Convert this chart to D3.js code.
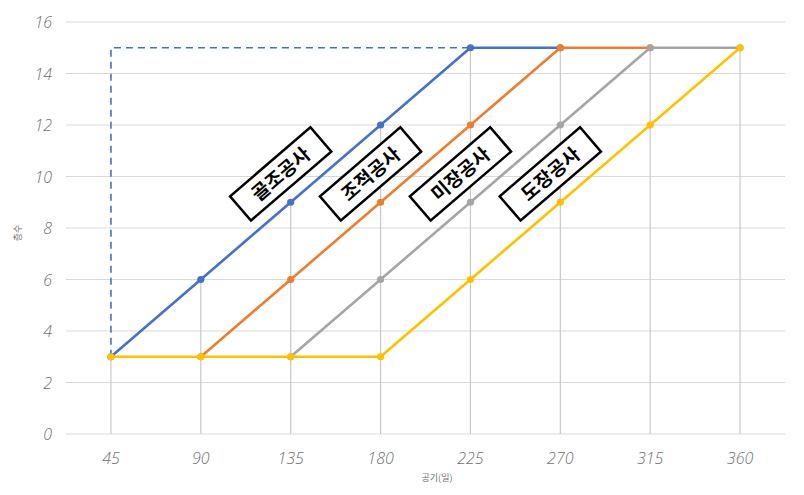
<!DOCTYPE html>
<html>
<head>
<meta charset="utf-8">
<script src="https://cdn.jsdelivr.net/npm/d3@7"></script>
<style>
  body { margin: 0; background: #fff; }
  svg { display: block; }
</style>
</head>
<body>
<div id="chart"></div>
<script>
// 공기(일) categories
const days = [45, 90, 135, 180, 225, 270, 315, 360];
const yTicks = [0, 2, 4, 6, 8, 10, 12, 14, 16];

// 층수 per trade
const frame   = [3, 6, 9, 12, 15, 15, null, null];   // 골조공사
const masonry = [null, 3, 6, 9, 12, 15, 15, null];   // 조적공사
const plaster = [null, null, 3, 6, 9, 12, 15, 15];   // 미장공사
const paint   = [3, 3, 3, 3, 6, 9, 12, 15];          // 도장공사

const seriesNames = ["골조공사", "조적공사", "미장공사", "도장공사"];
const seriesColors = ["#4472C4", "#ED7D31", "#A5A5A5", "#FFC000"];

// dashed guide: up from first point then across to where 골조 tops out
const guideDays = [45, 45, 225];
const guideFloors = [3, 15, 15];

const W = 804, H = 495;
const svg = d3.select("#chart").append("svg")
    .attr("width", W)
    .attr("height", H);

const x = d3.scaleBand()
    .domain(days)
    .range([66, 785]);
const cx = d => x(d) + x.bandwidth() / 2;

const y = d3.scaleLinear()
    .domain([0, 16])
    .range([434, 22]);

// horizontal grid
svg.append("g")
    .selectAll("line")
    .data(yTicks)
    .enter().append("line")
    .attr("x1", 66)
    .attr("x2", 785)
    .attr("y1", d => y(d))
    .attr("y2", d => y(d))
    .attr("stroke", "#d9d9d9")
    .attr("stroke-width", 1);

// y tick labels
svg.append("g")
    .selectAll("text")
    .data(yTicks)
    .enter().append("text")
    .attr("x", 52)
    .attr("y", d => y(d) + 6)
    .attr("text-anchor", "end")
    .style("font-family", "'Open Sans', sans-serif")
    .style("font-style", "italic")
    .style("font-weight", "300")
    .style("font-size", "16px")
    .style("fill", "#6f6f6f")
    .text(d => d);

// x tick labels
svg.append("g")
    .selectAll("text")
    .data(days)
    .enter().append("text")
    .attr("x", d => cx(d))
    .attr("y", 464)
    .attr("text-anchor", "middle")
    .style("font-family", "'Open Sans', sans-serif")
    .style("font-style", "italic")
    .style("font-weight", "300")
    .style("font-size", "16px")
    .style("fill", "#6f6f6f")
    .text(d => d);

// axis titles
svg.append("text")
    .attr("x", 437)
    .attr("y", 481)
    .attr("text-anchor", "middle")
    .style("font-family", "'Noto Sans CJK KR', sans-serif")
    .style("font-size", "9px")
    .style("fill", "#6f6f6f")
    .text("공기(일)");

svg.append("text")
    .attr("transform", "translate(21,233) rotate(-90)")
    .attr("text-anchor", "middle")
    .style("font-family", "'Noto Sans CJK KR', sans-serif")
    .style("font-size", "9px")
    .style("fill", "#6f6f6f")
    .text("층수");

const allSeries = [frame, masonry, plaster, paint];

// drop lines from highest point at each category
const tops = days.map((d, i) => d3.max(allSeries, s => s[i]));
svg.append("g")
    .selectAll("line")
    .data(days)
    .enter().append("line")
    .attr("x1", d => cx(d))
    .attr("x2", d => cx(d))
    .attr("y1", (d, i) => y(tops[i]))
    .attr("y2", y(0))
    .attr("stroke", "#c8c8c8")
    .attr("stroke-width", 1.2);

// dashed guide
const guide = guideDays.map((d, i) => [cx(d), y(guideFloors[i])]);
svg.append("path")
    .attr("d", d3.line()(guide))
    .attr("fill", "none")
    .attr("stroke", "#4472C4")
    .attr("stroke-width", 1.6)
    .attr("stroke-dasharray", "7,5");

const line = d3.line()
    .defined(d => d[1] != null)
    .x(d => cx(d[0]))
    .y(d => y(d[1]));

allSeries.forEach((s, k) => {
    const pts = days.map((d, i) => [d, s[i]]);
    const g = svg.append("g");
    g.append("path")
        .attr("d", line(pts))
        .attr("fill", "none")
        .attr("stroke", seriesColors[k])
        .attr("stroke-width", 2.6)
        .attr("stroke-linejoin", "round");
    g.selectAll("circle")
        .data(pts.filter(p => p[1] != null))
        .enter().append("circle")
        .attr("cx", p => cx(p[0]))
        .attr("cy", p => y(p[1]))
        .attr("r", 3.6)
        .attr("fill", seriesColors[k]);
});

// rotated labels
const angle = Math.atan2(y(0) - y(3), x.step()) * 180 / Math.PI;
seriesNames.forEach((name, k) => {
    const px = cx(days[2 + k]) - 10;
    const py = y(10.1);
    const g = svg.append("g")
        .attr("transform", `translate(${px},${py}) rotate(${-angle})`);
    g.append("rect")
        .attr("x", -53)
        .attr("y", -16)
        .attr("width", 106)
        .attr("height", 32)
        .attr("fill", "#fff")
        .attr("stroke", "#000")
        .attr("stroke-width", 2.5);
    g.append("text")
        .attr("x", 0)
        .attr("y", 7)
        .attr("text-anchor", "middle")
        .style("font-family", "'Noto Sans CJK KR', sans-serif")
        .style("font-weight", "bold")
        .style("font-size", "19px")
        .style("fill", "#000")
        .text(name);
});
</script>
</body>
</html>
